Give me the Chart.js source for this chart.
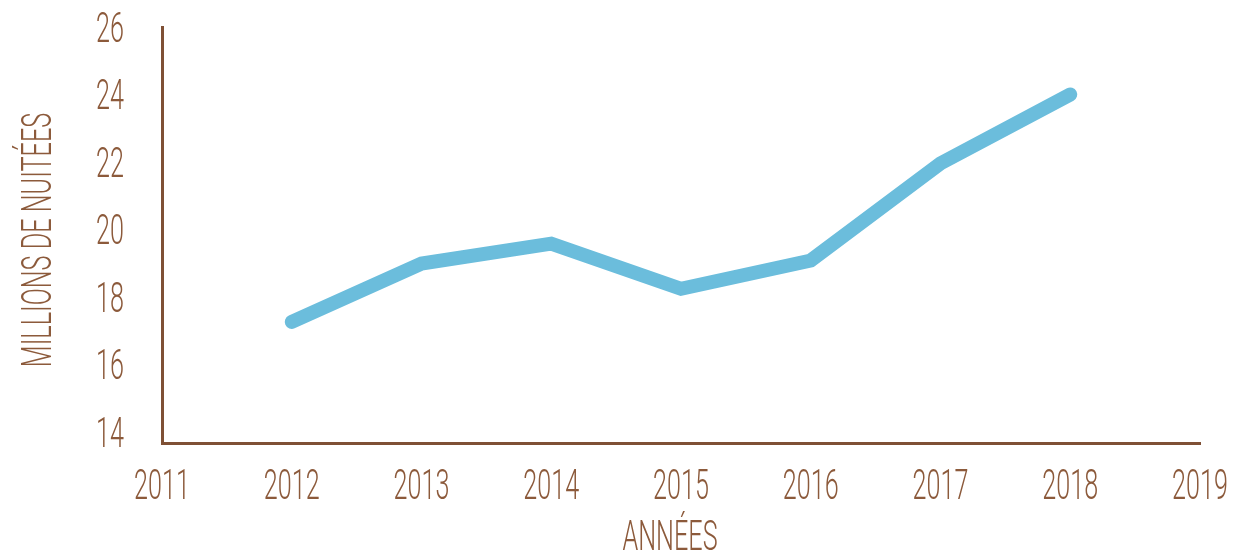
<!DOCTYPE html>
<html>
<head>
<meta charset="utf-8">
<script src="https://cdn.jsdelivr.net/npm/chart.js@4.4.0/dist/chart.umd.min.js"></script>
<style>
  html, body { margin: 0; padding: 0; background: #fff; }
  #wrap { width: 1243px; height: 554px; }
</style>
</head>
<body>
<div id="wrap"><canvas id="myChart" width="1243" height="554"></canvas></div>
<script>
// data
var annees = ['2011', '2012', '2013', '2014', '2015', '2016', '2017', '2018', '2019'];
var nuitees = [null, 17.26, 18.99, 19.58, 18.24, 19.08, 21.96, 24.0, null];
var yTicks = [14, 16, 18, 20, 22, 24, 26];
var titreX = 'ANNÉES';
var titreY = 'MILLIONS DE NUITÉES';

var brun = '#7f5035';
var texte = '#8c5a3b';
var police = "300 42px Roboto, 'DejaVu Sans Condensed', sans-serif";

// the reference uses a very narrow condensed face: draw labels squeezed horizontally
function texteEtroit(ctx, str, x, y, align, sx) {
	ctx.save();
	ctx.translate(x, y);
	ctx.scale(sx, 1);
	ctx.textAlign = align;
	ctx.textBaseline = 'alphabetic';
	ctx.fillText(str, 0, 0);
	ctx.restore();
}

var etiquettes = {
	id: 'etiquettes',
	afterDraw: function(chart) {
		var ctx = chart.ctx;
		var sx = chart.scales.x, sy = chart.scales.y;
		ctx.save();
		ctx.font = police;
		ctx.fillStyle = texte;
		var etroit = 0.6;
		var demi = 15; // half cap height

		yTicks.forEach(function(v) {
			texteEtroit(ctx, String(v), 124, sy.getPixelForValue(v) + demi, 'right', etroit);
		});
		annees.forEach(function(a, i) {
			texteEtroit(ctx, a, sx.getPixelForValue(i), 484 + demi, 'center', etroit);
		});
		texteEtroit(ctx, titreX, 670, 535 + demi, 'center', etroit);

		ctx.save();
		ctx.translate(36, (sy.top + sy.bottom) / 2 + 5);
		ctx.rotate(-Math.PI / 2);
		texteEtroit(ctx, titreY, 0, demi, 'center', etroit);
		ctx.restore();
		ctx.restore();
	}
};

var ctx = document.getElementById('myChart');

var chart = new Chart(ctx, {
	type: 'line',
	data: {
		labels: annees,
		datasets: [
			{
				label: 'Nuitées',
				data: nuitees,
				borderColor: '#6bbddc',
				borderWidth: 14,
				borderCapStyle: 'round',
				borderJoinStyle: 'miter',
				pointRadius: 0,
				tension: 0,
				fill: false
			}
		]
	},
	options: {
		responsive: false,
		animation: false,
		layout: { padding: { top: 27, right: 43, left: 0, bottom: 0 } },
		plugins: {
			legend: { display: false },
			tooltip: { enabled: false }
		},
		scales: {
			x: {
				offset: false,
				grid: { display: false },
				border: { display: true, color: brun, width: 3 },
				ticks: { display: false },
				afterFit: function(scale) { scale.height = 111; }
			},
			y: {
				min: 13.67,
				max: 26,
				afterBuildTicks: function(scale) {
					scale.ticks = yTicks.map(function(v) { return { value: v }; });
				},
				grid: { display: false },
				border: { display: true, color: brun, width: 3 },
				ticks: { display: false },
				afterFit: function(scale) { scale.width = 162; }
			}
		}
	},
	plugins: [etiquettes]
});
</script>
</body>
</html>
